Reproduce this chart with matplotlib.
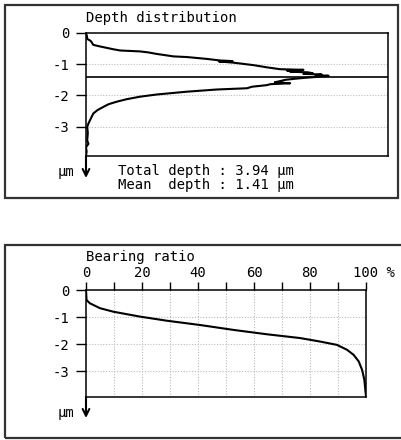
import matplotlib
matplotlib.use("Agg")
import matplotlib.pyplot as plt
import matplotlib.transforms as mtransforms
from matplotlib.patches import Rectangle

plt.rcParams['font.family'] = ['DejaVu Sans Mono']
plt.rcParams['font.size'] = 10

# depth distribution (amount in % of panel width vs depth in um)
dist_depth = [0.0, 0.10, 0.19, 0.25, 0.30, 0.38, 0.43, 0.52, 0.56, 0.59, 0.62, 0.67,
              0.75, 0.77, 0.83, 0.88, 0.90, 0.91, 0.95, 1.03, 1.10, 1.16, 1.18, 1.20,
              1.22, 1.24, 1.26, 1.29, 1.31, 1.33, 1.35, 1.37, 1.39, 1.41, 1.44, 1.47,
              1.50, 1.54, 1.58, 1.61, 1.64, 1.67, 1.72, 1.77, 1.81, 1.88, 1.97, 2.04,
              2.12, 2.20, 2.28, 2.37, 2.47, 2.58, 2.70, 2.80, 2.90, 3.01, 3.20, 3.44,
              3.55, 3.66, 3.80, 3.94]
dist_amount = [0.0, 0.3, 0.4, 1.5, 1.9, 2.4, 4.6, 9.0, 11.3, 17.9, 20.5, 23.4,
               29.0, 33.4, 40.0, 44.4, 48.5, 44.0, 48.8, 55.5, 59.9, 64.3, 72.0, 66.5,
               71.0, 67.6, 73.5, 75.1, 72.0, 78.0, 76.0, 80.3, 77.5, 76.0, 72.0, 68.7,
               66.0, 64.3, 62.5, 67.6, 61.0, 59.9, 55.0, 53.3, 43.3, 33.4, 23.4, 17.9,
               13.5, 10.2, 7.5, 5.7, 3.8, 2.4, 1.8, 1.3, 0.8, 0.4, 0.6, 0.4,
               0.8, 0.0, 0.2, 0.0]

# bearing ratio curve (% vs depth in um)
br_ratio = [0.0, 0.2, 1.4, 5.0, 9.8, 19.3, 28.8, 40.8, 52.7, 64.6, 76.5, 83.7,
            89.6, 93.2, 95.6, 97.4, 98.6, 99.4, 100.0]
br_depth = [0.0, 0.37, 0.49, 0.67, 0.80, 0.98, 1.13, 1.29, 1.47, 1.63, 1.77, 1.90,
            2.02, 2.20, 2.39, 2.63, 2.94, 3.30, 3.92]

total_depth = 3.94
mean_depth = 1.41
y_ticks = [0, -1, -2, -3]
y_labels = ['0', '-1', '-2', '-3']
x_ticks = [0, 10, 20, 30, 40, 50, 60, 70, 80, 90, 100]
x_labels = ['0', '', '20', '', '40', '', '60', '', '80', '', '100 %']

W, H = 401, 440
fig = plt.figure(figsize=(W / 100, H / 100), dpi=100)


def px_rect(x0, y0, x1, y1):
    return [x0 / W, 1 - y1 / H, (x1 - x0) / W, (y1 - y0) / H]


# outer frames
for r in [(5, 5, 398, 198), (5, 245, 410, 438)]:
    x0, y0, w, h = px_rect(*r)
    fig.patches.append(Rectangle((x0, y0), w, h, transform=fig.transFigure,
                                 fill=False, ec='#333333', lw=1.6))

grid_kw = dict(color='#bbbbbb', lw=0.8, ls=(0, (1, 1.5)))

# --- depth distribution ---
ax1 = fig.add_axes(px_rect(86, 33, 388, 156))
ax1.plot(dist_amount, [-d for d in dist_depth], color='black', lw=1.5)
ax1.axhline(-mean_depth, color='black', lw=1.2)
ax1.set_xlim(0, 100)
ax1.set_ylim(-total_depth, 0)
ax1.set_xticks([])
ax1.set_yticks(y_ticks)
ax1.set_yticklabels(y_labels)
for y in y_ticks[1:]:
    ax1.axhline(y, zorder=0, **grid_kw)
ax1.tick_params(axis='y', length=7, width=1, pad=5)
for s in ax1.spines.values():
    s.set_linewidth(1.1)
ax1.annotate('', xy=(0, -22 / 123), xytext=(0, 0), xycoords='axes fraction',
             arrowprops=dict(arrowstyle='->', lw=1.5, mutation_scale=12, color='black',
                             shrinkA=0, shrinkB=0))
fig.text(86 / W, 1 - 18 / H, 'Depth distribution', va='center', ha='left')
fig.text(74 / W, 1 - 172 / H, 'µm', va='center', ha='right')
fig.text(118 / W, 1 - 171 / H, 'Total depth : %.2f µm' % total_depth, va='center')
fig.text(118 / W, 1 - 185 / H, 'Mean  depth : %.2f µm' % mean_depth, va='center')

# --- bearing ratio ---
ax2 = fig.add_axes(px_rect(86, 290, 366, 397))
ax2.plot(br_ratio, [-d for d in br_depth], color='black', lw=1.5)
ax2.set_xlim(0, 100)
ax2.set_ylim(-total_depth, 0)
ax2.xaxis.tick_top()
ax2.set_xticks(x_ticks)
ax2.set_xticklabels(x_labels)
ax2.set_yticks(y_ticks)
ax2.set_yticklabels(y_labels)
for x in x_ticks[1:-1]:
    ax2.axvline(x, zorder=0, **grid_kw)
for y in y_ticks[1:]:
    ax2.axhline(y, zorder=0, **grid_kw)
ax2.tick_params(axis='y', length=7, width=1, pad=5)
ax2.tick_params(axis='x', length=6, width=1, pad=1)
# shift "100 %" so that "100" stays centred on its tick
last = ax2.get_xticklabels()[-1]
last.set_transform(last.get_transform() +
                   mtransforms.ScaledTranslation(8.4 / 100, 0, fig.dpi_scale_trans))
for s in ax2.spines.values():
    s.set_linewidth(1.1)
ax2.annotate('', xy=(0, -21 / 107), xytext=(0, 0), xycoords='axes fraction',
             arrowprops=dict(arrowstyle='->', lw=1.5, mutation_scale=12, color='black',
                             shrinkA=0, shrinkB=0))
fig.text(86 / W, 1 - 257 / H, 'Bearing ratio', va='center', ha='left')
fig.text(74 / W, 1 - 413 / H, 'µm', va='center', ha='right')

fig.savefig('out.png', dpi=100)
